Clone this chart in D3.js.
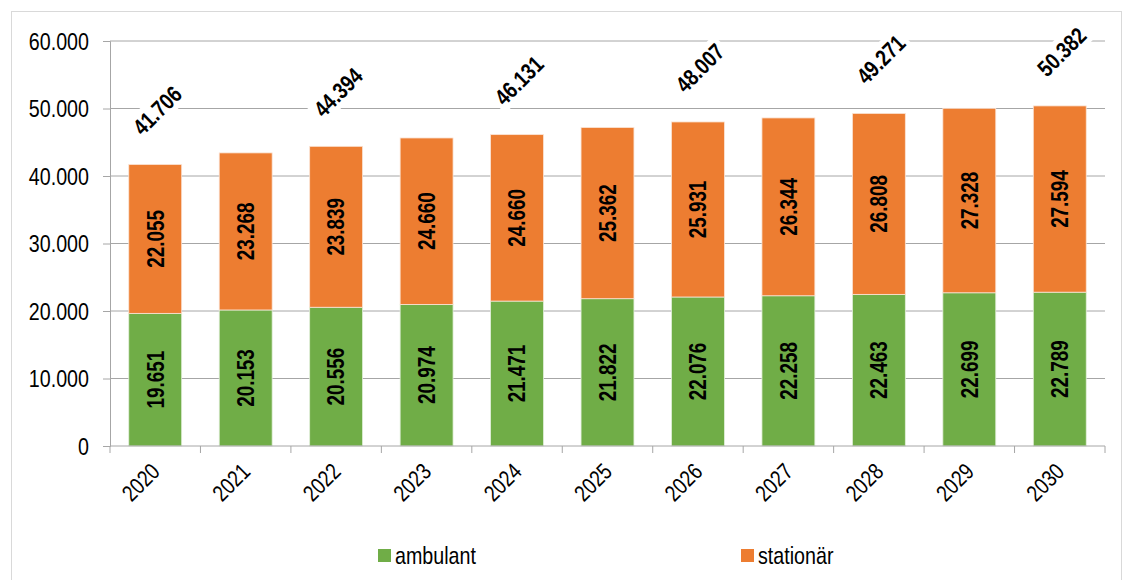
<!DOCTYPE html>
<html><head><meta charset="utf-8">
<script src="https://cdn.jsdelivr.net/npm/d3@7"></script>
<style>body{margin:0;background:#fff}svg{display:block;font-family:"Liberation Sans",Arial,sans-serif}</style>
</head><body>
<svg id="c" width="1122" height="580"></svg>
<script>
const years = ["2020","2021","2022","2023","2024","2025","2026","2027","2028","2029","2030"];
const ambulant = [19651,20153,20556,20974,21471,21822,22076,22258,22463,22699,22789];
const stationaer = [22055,23268,23839,24660,24660,25362,25931,26344,26808,27328,27594];
const totalLabels = [41706,null,44394,null,46131,null,48007,null,49271,null,50382];
const yTicks = [0,10000,20000,30000,40000,50000,60000];
const seriesNames = ["ambulant","stationär"];
const colors = ["#70AD47","#ED7D31"];

const NARROW = 0.82;
const fmt = v => d3.format(",")(v).replace(/,/g,".");
const svg = d3.select("#c");
svg.append("rect").attr("x",11.5).attr("y",11.5).attr("width",1110).attr("height",600)
  .attr("fill","#fff").attr("stroke","#d9d9d9");

function label(parent, px, py, rot, txt, o){
  return parent.append("text")
    .attr("transform",`translate(${px},${py}) rotate(${rot}) scale(${NARROW},1)`)
    .attr("text-anchor",o.anchor||"start").attr("dy",o.dy||null)
    .attr("font-size",o.size).attr("font-weight",o.bold?"bold":null)
    .attr("fill","#000").text(txt);
}

const L=110, R=1105, T=41, B=446;
const x = d3.scaleBand().domain(years).range([L,R]).paddingInner(0.415).paddingOuter(0.2075);
const xb = d3.scaleBand().domain(years).range([L,R]);
const y = d3.scaleLinear().domain([0,60000]).range([B,T]);

// grid
svg.append("g").selectAll("line").data(yTicks.filter(d=>d>0)).join("line")
  .attr("x1",L).attr("x2",R).attr("y1",d=>y(d)).attr("y2",d=>y(d))
  .attr("stroke","#a6a6a6").attr("stroke-width",1);

// y axis
const ya = svg.append("g").attr("transform",`translate(${L},0)`)
  .call(d3.axisLeft(y).tickValues(yTicks).tickFormat(d=>d===0?"0":fmt(d)).tickSize(7));
ya.select(".domain").attr("stroke","#a6a6a6");
ya.selectAll(".tick line").attr("stroke","#a6a6a6");
ya.selectAll(".tick text").remove();
yTicks.forEach(v=>label(svg, 89, y(v), 0, v===0?"0":fmt(v), {anchor:"end", dy:"0.36em", size:24}));

// bars
const data = years.map((yr,i)=>({yr, a:ambulant[i], s:stationaer[i]}));
const g = svg.append("g");
g.selectAll(".ba").data(data).join("rect")
  .attr("x",d=>x(d.yr)).attr("width",x.bandwidth())
  .attr("y",d=>y(d.a)).attr("height",d=>y(0)-y(d.a))
  .attr("fill",colors[0]).attr("stroke","#e2efda").attr("stroke-width",0.8);
g.selectAll(".bs").data(data).join("rect")
  .attr("x",d=>x(d.yr)).attr("width",x.bandwidth())
  .attr("y",d=>y(d.a+d.s)).attr("height",d=>y(d.a)-y(d.a+d.s))
  .attr("fill",colors[1]).attr("stroke","#fbe4d5").attr("stroke-width",0.8);

// inner labels
data.forEach(d=>{
  const cx = x(d.yr)+x.bandwidth()/2;
  label(svg, cx, y(d.a/2), -90, fmt(d.a), {anchor:"middle", dy:"0.36em", size:23, bold:true});
  label(svg, cx, y(d.a+d.s/2), -90, fmt(d.s), {anchor:"middle", dy:"0.36em", size:23, bold:true});
});

// x axis
const xa = svg.append("g").attr("transform",`translate(0,${B})`);
xa.append("line").attr("x1",L).attr("x2",R).attr("stroke","#a6a6a6");
xa.selectAll(".tk").data(years.concat(["end"])).join("line")
  .attr("x1",(d,i)=>L+i*xb.bandwidth()).attr("x2",(d,i)=>L+i*xb.bandwidth())
  .attr("y1",0).attr("y2",7).attr("stroke","#a6a6a6");
years.forEach(d=>label(svg, xb(d)+xb.bandwidth()/2+6, B+27, -45, d, {anchor:"end", size:23}));

// total labels
data.forEach((d,i)=>{
  if(totalLabels[i]==null) return;
  const cx = x(d.yr)+x.bandwidth()/2;
  const cy = y(totalLabels[i]) - 54;
  const gg = svg.append("g").attr("transform",`translate(${cx+2},${cy}) rotate(-45) scale(${NARROW},1)`);
  const t = gg.append("text").attr("text-anchor","middle").attr("dy","0.35em")
    .attr("font-weight","bold").attr("font-size",23).attr("fill","#000").text(fmt(totalLabels[i]));
  const bb = t.node().getBBox();
  gg.insert("rect","text").attr("x",bb.x-5).attr("y",bb.y-1).attr("width",bb.width+10).attr("height",bb.height+2).attr("fill","#fff");
});

// legend
const lx = [378,741];
seriesNames.forEach((n,i)=>{
  svg.append("rect").attr("x",lx[i]).attr("y",549).attr("width",13).attr("height",13).attr("fill",colors[i]);
  label(svg, lx[i]+17, 564, 0, n, {size:24});
});
</script>
</body></html>
